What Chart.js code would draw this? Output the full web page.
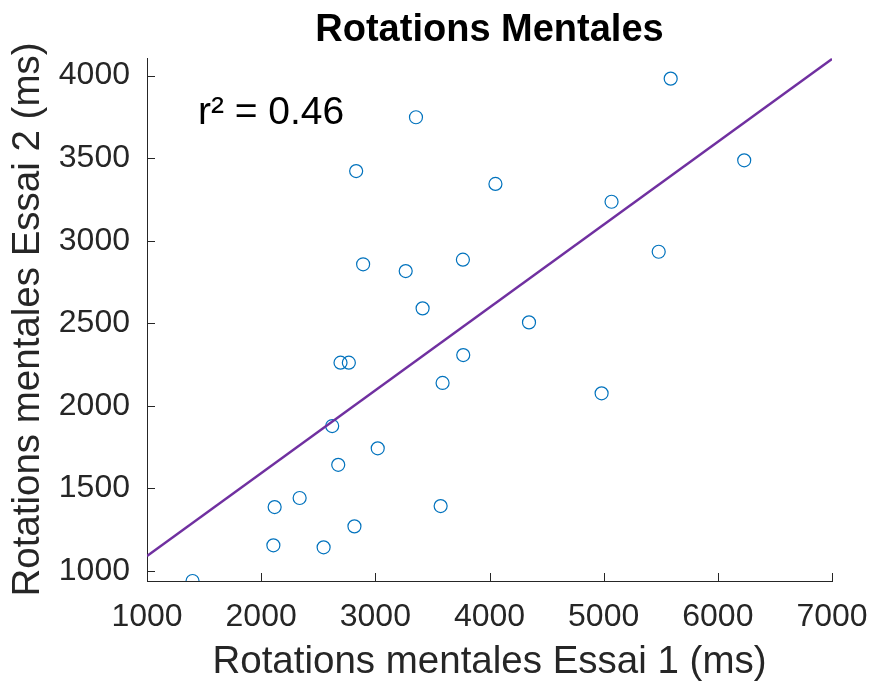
<!DOCTYPE html>
<html>
<head>
<meta charset="utf-8">
<script src="https://cdn.jsdelivr.net/npm/chart.js@4.4.1/dist/chart.umd.min.js"></script>
<style>
  html, body { margin: 0; padding: 0; background: #fff; }
  #wrap { width: 872px; height: 683px; }
</style>
</head>
<body>
<div id="wrap"><canvas id="chart" width="872" height="683"></canvas></div>
<script>
// values (ms)
const essai1 = [1399, 2107, 2118, 2337, 2547, 2622, 2675, 2695, 2768, 2817, 2832, 2893, 3021, 3266, 3356, 3414, 3572, 3589, 3767, 3770, 4052, 4346, 4982, 5069, 5482, 5587, 6231];
const essai2 = [938, 1154, 1386, 1441, 1142, 1877, 1642, 2261, 2261, 1269, 3422, 2857, 1742, 2816, 3748, 2590, 1392, 2138, 2885, 2307, 3344, 2505, 2075, 3236, 2933, 3982, 3487];

// regression line end points, as drawn
const fitX = [1000, 7000];
const fitY = [1089, 4101];

const xTicks = [1000, 2000, 3000, 4000, 5000, 6000, 7000];
const yTicks = [1000, 1500, 2000, 2500, 3000, 3500, 4000];
const r2Label = "r\u00b2 = 0.46";
const r2Pos = [1446, 3775];

const FONT = "'Liberation Sans', Arial, Helvetica, sans-serif";
const AXIS = "#262626";

const points = essai1.map((x, i) => ({ x: x, y: essai2[i] }));
const fitLine = fitX.map((x, i) => ({ x: x, y: fitY[i] }));

// MATLAB style: tick marks inside the axes, plus the r² text
const extras = {
  id: "extras",
  afterDraw(chart) {
    const ctx = chart.ctx;
    const xs = chart.scales.x, ys = chart.scales.y;
    ctx.save();
    ctx.strokeStyle = AXIS;
    ctx.lineWidth = 1;
    ctx.beginPath();
    xTicks.forEach(v => {
      const px = Math.round(xs.getPixelForValue(v)) + 0.5;
      ctx.moveTo(px, ys.bottom);
      ctx.lineTo(px, ys.bottom - 8);
    });
    yTicks.forEach(v => {
      const py = Math.round(ys.getPixelForValue(v)) + 0.5;
      ctx.moveTo(xs.left, py);
      ctx.lineTo(xs.left + 8, py);
    });
    ctx.stroke();

    ctx.fillStyle = "#000";
    ctx.font = "39px " + FONT;
    ctx.textAlign = "left";
    ctx.textBaseline = "middle";
    ctx.fillText(r2Label, xs.getPixelForValue(r2Pos[0]), ys.getPixelForValue(r2Pos[1]));
    ctx.restore();
  }
};

new Chart(document.getElementById("chart"), {
  type: "scatter",
  data: {
    datasets: [
      {
        type: "line",
        data: fitLine,
        borderColor: "#7030A0",
        borderWidth: 2.5,
        pointRadius: 0,
        fill: false,
        order: 0
      },
      {
        data: points,
        pointStyle: "circle",
        pointRadius: 6.5,
        pointBorderWidth: 1.2,
        pointBorderColor: "#0072BD",
        pointBackgroundColor: "rgba(0,0,0,0)",
        order: 1
      }
    ]
  },
  options: {
    responsive: false,
    animation: false,
    devicePixelRatio: 1,
    layout: { padding: { left: 0, right: 40, top: 0, bottom: 0 } },
    plugins: {
      legend: { display: false },
      tooltip: { enabled: false },
      title: {
        display: true,
        text: "Rotations Mentales",
        color: "#000",
        fullSize: false,
        font: { family: FONT, size: 38, weight: "bold", lineHeight: 1.2 },
        padding: { top: 8, bottom: 4.4 }
      }
    },
    scales: {
      x: {
        type: "linear",
        min: 1000,
        max: 7000,
        grid: { display: false, drawTicks: false },
        border: { display: true, color: AXIS, width: 1 },
        ticks: {
          color: AXIS,
          padding: 17,
          maxRotation: 0,
          font: { family: FONT, size: 32 },
          callback: v => String(v)
        },
        afterBuildTicks(scale) { scale.ticks = xTicks.map(v => ({ value: v })); },
        title: {
          display: true,
          text: "Rotations mentales Essai 1 (ms)",
          color: AXIS,
          font: { family: FONT, size: 38.5, lineHeight: 1 },
          padding: { top: 0, bottom: 1 }
        },
        afterFit(scale) {
          scale.height = 102;
          scale.paddingLeft = 0;
          scale.paddingRight = 0;
        }
      },
      y: {
        type: "linear",
        min: 938,
        max: 4107,
        grid: { display: false, drawTicks: false },
        border: { display: true, color: AXIS, width: 1 },
        ticks: {
          color: AXIS,
          padding: 17,
          font: { family: FONT, size: 32 },
          callback: v => String(v)
        },
        afterBuildTicks(scale) { scale.ticks = yTicks.map(v => ({ value: v })); },
        title: {
          display: true,
          text: "Rotations mentales Essai 2 (ms)",
          color: AXIS,
          font: { family: FONT, size: 38.5, lineHeight: 1 },
          padding: { top: 9, bottom: 0 }
        },
        afterFit(scale) {
          scale.width = 147;
          scale.paddingTop = 0;
          scale.paddingBottom = 0;
        }
      }
    }
  },
  plugins: [extras]
});
</script>
</body>
</html>
